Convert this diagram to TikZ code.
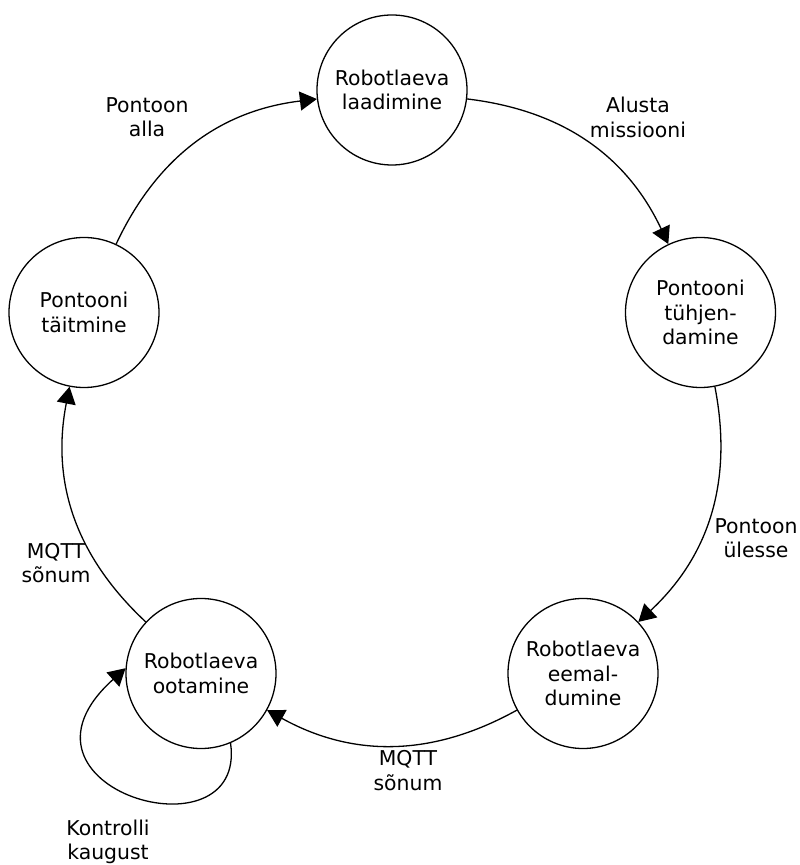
\documentclass[tikz,border=0pt]{standalone}
\usepackage{fontspec}
\setmainfont{DejaVu Sans}
\usetikzlibrary{arrows.meta}
\begin{document}
\begin{tikzpicture}[x=1pt,y=1pt,
  state/.style={draw, circle, line width=1.3pt, minimum size=150pt, inner sep=0pt,
    align=center, font=\fontsize{20.4}{24.5}\selectfont},
  lbl/.style={align=center, inner sep=0pt, font=\fontsize{20.4}{24.5}\selectfont},
  arr/.style={line width=1.3pt, -{Triangle[length=17pt,width=19pt]}}]
\useasboundingbox (0,0) rectangle (800,865);
\node[state] (T)  at (392,775)   {Robotlaeva\\laadimine};
\node[state] (RT) at (700.5,552.5) {Pontooni\\tühjen-\\damine};
\node[state] (RB) at (583,191.5) {Robotlaeva\\eemal-\\dumine};
\node[state] (LB) at (201,191.5) {Robotlaeva\\ootamine};
\node[state] (L)  at (84,552.5)  {Pontooni\\täitmine};

\draw[arr] (T)  to[bend left=29] (RT);
\draw[arr] (RT) to[bend left=29] (RB);
\draw[arr] (RB) to[bend left=29] (LB);
\draw[arr] (LB) to[bend left=29] (L);
\draw[arr] (L)  to[bend left=29] (T);
\draw[arr] (LB.-67) .. controls +(-82:120pt) and +(222:180pt) .. (LB.176);

\node[lbl] (l1) at (147,747.6) {Pontoon\\alla};
\node[lbl] (l2) at (638,747.7) {Alusta\\missiooni};
\node[lbl] (l3) at (756,327)   {Pontoon\\ülesse};
\node[lbl] (l4) at (408,94.6)  {MQTT\\sõnum};
\node[lbl] (l5) at (56,302)    {MQTT\\sõnum};
\node[lbl] (l6) at (108,23)    {Kontrolli\\kaugust};
\end{tikzpicture}
\end{document}
